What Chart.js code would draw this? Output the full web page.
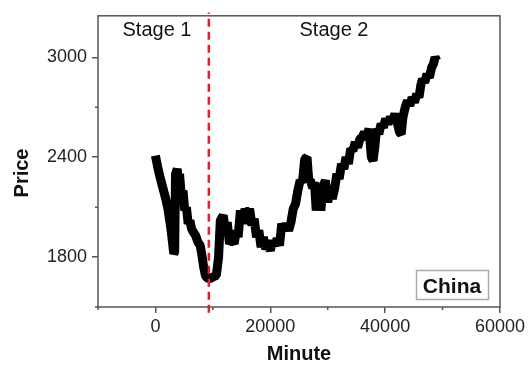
<!DOCTYPE html>
<html>
<head>
<meta charset="utf-8">
<script src="https://cdn.jsdelivr.net/npm/chart.js@4.4.1/dist/chart.umd.min.js"></script>
<style>
  html, body { margin: 0; padding: 0; background: #fff; }
  #wrap { width: 528px; height: 365px; }
</style>
</head>
<body>
<div id="wrap"><canvas id="priceChart" width="528" height="365"></canvas></div>
<script>
// Price series (minute, index level)
const minutes = [
  0, 400, 800, 1300, 1800, 2200, 2700, 3000, 3200, 3350,
  3500, 3800, 4000, 4200, 4500, 4800, 5100, 5400, 5700, 6000,
  6300, 6600, 7000, 7400, 7800, 8100, 8400, 8700, 9000, 9500, 10000,
  10600, 11000, 11300, 11800, 12200, 12500, 12900, 13300, 13700, 14100,
  14400, 14800, 15200, 15600, 16000, 16400, 16800, 17200, 17600, 18000,
  18400, 18800, 19200, 19600, 20000, 20400, 20800, 21200, 21600, 22000,
  22400, 22800, 23200, 23600, 24000, 24400, 24800, 25200, 25600, 26000,
  26400, 26700, 27000, 27400, 27700, 28000, 28400, 28800, 29200, 29600,
  30000, 30400, 30800, 31200, 31600, 32000, 32400, 32800, 33200, 33600,
  34000, 34400, 34800, 35200, 35600, 36000, 36400, 36800, 37200, 37600,
  37900, 38200, 38500, 38900, 39300, 39700, 40100, 40500, 40900, 41300,
  41700, 42100, 42500, 42800, 43100, 43500, 43900, 44300, 44700, 45100,
  45500, 45900, 46200, 46500, 46900, 47300, 47700, 48100, 48400, 48700,
  49000
];
const prices = [
  2410, 2340, 2280, 2215, 2150, 2085, 1970, 1880, 1820, 1830,
  2300, 2330, 2240, 2300, 2170, 2200, 2080, 2100, 2000, 2020,
  1970, 1950, 1930, 1890, 1870, 1810, 1740, 1690, 1675, 1670, 1680,
  1690, 1800, 2020, 2050, 1960, 2010, 1880, 1900, 1880, 1960,
  1920, 2080, 2000, 2090, 2060, 2090, 1990, 2030, 1920, 1960,
  1860, 1920, 1850, 1870, 1840, 1900, 1870, 1910, 1870, 2000,
  1960, 2000, 1960, 2010, 2090, 2120, 2200, 2260, 2250, 2390,
  2400, 2260, 2260, 2215, 2250, 2080, 2200, 2080, 2230, 2260,
  2130, 2200, 2150, 2210, 2300, 2270, 2360, 2330, 2400, 2360,
  2450, 2440, 2490, 2460, 2510, 2520, 2550, 2530, 2570, 2400,
  2380, 2460, 2570, 2540, 2600, 2580, 2630, 2600, 2640, 2620,
  2660, 2610, 2550, 2540, 2640, 2700, 2740, 2710, 2760, 2730,
  2780, 2760, 2830, 2870, 2850, 2900, 2880, 2940, 2960, 3000,
  2980
];

// boundary between the two stages (dashed red line)
const stageSplit = 9300;
const splitSpan = [1465, 3270];

const xMajor = [0, 20000, 40000, 60000];
const xMinor = [-10000, 10000, 30000, 50000];
const yMajor = [1800, 2400, 3000];
const yMinor = [1500, 2100, 2700];

const FONT = "'Liberation Sans', Arial, sans-serif";
const AXIS_COLOR = '#555';

const series = minutes.map((m, i) => ({ x: m, y: prices[i] }));
const splitLine = splitSpan.map(p => ({ x: stageSplit, y: p }));

const decorations = {
  id: 'decorations',
  afterDraw(chart) {
    const { ctx, chartArea: a, scales: { x, y } } = chart;
    ctx.save();

    // frame
    ctx.strokeStyle = AXIS_COLOR;
    ctx.lineWidth = 1.5;
    ctx.strokeRect(a.left, a.top, a.right - a.left, a.bottom - a.top);

    // minor ticks (shorter than major ones)
    ctx.beginPath();
    xMinor.forEach(v => {
      const px = x.getPixelForValue(v);
      ctx.moveTo(px, a.bottom);
      ctx.lineTo(px, a.bottom + 3);
    });
    yMinor.forEach(v => {
      const py = y.getPixelForValue(v);
      ctx.moveTo(a.left, py);
      ctx.lineTo(a.left - 3, py);
    });
    ctx.stroke();

    // stage labels
    ctx.fillStyle = '#111';
    ctx.textAlign = 'center';
    ctx.textBaseline = 'alphabetic';
    ctx.font = '20px ' + FONT;
    ctx.fillText('Stage 1', 157, 36);
    ctx.fillText('Stage 2', 334, 36);

    // China box
    ctx.strokeStyle = '#aaa';
    ctx.lineWidth = 1.5;
    ctx.strokeRect(416.5, 270.5, 72, 29);
    ctx.font = 'bold 21px ' + FONT;
    ctx.fillText('China', 452, 293);

    // axis titles
    ctx.font = 'bold 20px ' + FONT;
    ctx.fillText('Minute', (a.left + a.right) / 2, 360);
    ctx.translate(28, 173);
    ctx.rotate(-Math.PI / 2);
    ctx.fillText('Price', 0, 0);

    ctx.restore();
  }
};

const ctx = document.getElementById('priceChart').getContext('2d');
new Chart(ctx, {
  type: 'line',
  data: {
    datasets: [
      {
        label: 'Stage split',
        data: splitLine,
        borderColor: '#ee1c25',
        borderWidth: 2.5,
        borderDash: [8, 5],
        pointRadius: 0,
        clip: 8,
        order: 0
      },
      {
        label: 'China',
        data: series,
        borderColor: '#000',
        borderWidth: 9,
        borderJoinStyle: 'bevel',
        pointRadius: 0,
        tension: 0,
        order: 1
      }
    ]
  },
  options: {
    responsive: false,
    animation: false,
    devicePixelRatio: 1,
    layout: { padding: { top: 10, right: 28, left: 0, bottom: 0 } },
    plugins: {
      legend: { display: false },
      tooltip: { enabled: false }
    },
    scales: {
      x: {
        type: 'linear',
        min: -10000,
        max: 60000,
        afterBuildTicks: s => { s.ticks = xMajor.map(v => ({ value: v })); },
        afterFit: s => { s.height = 58; },
        border: { display: false },
        grid: {
          drawOnChartArea: false,
          drawTicks: true,
          tickLength: 6,
          lineWidth: 1.5,
          color: AXIS_COLOR
        },
        ticks: {
          autoSkip: false,
          maxRotation: 0,
          padding: 3,
          color: '#222',
          font: { family: FONT, size: 18 },
          callback: v => String(v)
        }
      },
      y: {
        min: 1500,
        max: 3250,
        afterBuildTicks: s => { s.ticks = yMajor.map(v => ({ value: v })); },
        afterFit: s => { s.width = 98; },
        border: { display: false },
        grid: {
          drawOnChartArea: false,
          drawTicks: true,
          tickLength: 6,
          lineWidth: 1.5,
          color: AXIS_COLOR
        },
        ticks: {
          autoSkip: false,
          padding: 5,
          color: '#222',
          font: { family: FONT, size: 18 },
          callback: v => String(v)
        }
      }
    }
  },
  plugins: [decorations]
});
</script>
</body>
</html>
